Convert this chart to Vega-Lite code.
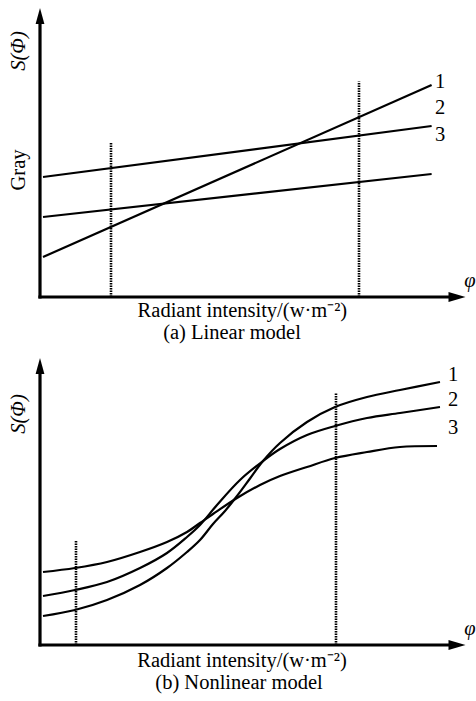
{
  "$schema": "https://vega.github.io/schema/vega-lite/v6.json",
  "padding": 0,
  "spacing": 0,
  "background": "white",
  "config": {"view": {"stroke": null}, "text": {"font": "Liberation Serif", "fontSize": 20.5, "color": "black", "baseline": "middle", "align": "center"}},
  "datasets": {
    "axesA": [{"x": 0, "y": 0, "x2": 0, "y2": 93}, {"x": 0, "y": 0, "x2": 104, "y2": 0}],
    "upA": [{"x": 0, "y": 93.67}],
    "rightA": [{"x": 104.25, "y": 0}],
    "linesA": [
      {"s": "1", "x": 0.75, "y": 13.33}, {"s": "1", "x": 97.9, "y": 70.67},
      {"s": "2", "x": 0.75, "y": 40}, {"s": "2", "x": 97.9, "y": 57},
      {"s": "3", "x": 0.75, "y": 26.67}, {"s": "3", "x": 97.9, "y": 41}
    ],
    "guidesA": [{"x": 17.75, "y": 0, "y2": 51.3}, {"x": 79.75, "y": 0, "y2": 71.8}],
    "textA": [
      {"role": "h", "label": "1", "x": 100, "y": 71.67},
      {"role": "h", "label": "2", "x": 100, "y": 63},
      {"role": "h", "label": "3", "x": 100, "y": 54},
      {"role": "h", "label": "Radiant intensity/(w·m⁻²)", "x": 50.6, "y": -4.67},
      {"role": "h", "label": "(a) Linear model", "x": 48, "y": -12},
      {"role": "hi", "label": "φ", "x": 107.5, "y": 5.33},
      {"role": "v", "label": "Gray", "x": -5.25, "y": 42.33},
      {"role": "vi", "label": "S(Φ)", "x": -5.25, "y": 82}
    ],
    "axesB": [{"x": 0, "y": 0, "x2": 0, "y2": 92.5}, {"x": 0, "y": 0, "x2": 104, "y2": 0}],
    "upB": [{"x": 0, "y": 93}],
    "rightB": [{"x": 104.25, "y": 0}],
    "curvesB": [
      {"s": "1", "x": 0.75, "y": 9.67}, {"s": "1", "x": 8.75, "y": 11.67}, {"s": "1", "x": 16.75, "y": 15},
      {"s": "1", "x": 25, "y": 20}, {"s": "1", "x": 31.75, "y": 25.67}, {"s": "1", "x": 36.75, "y": 31},
      {"s": "1", "x": 40, "y": 35}, {"s": "1", "x": 43.25, "y": 40.33}, {"s": "1", "x": 46.25, "y": 44.67},
      {"s": "1", "x": 49.25, "y": 49.67}, {"s": "1", "x": 52.5, "y": 55.5}, {"s": "1", "x": 55.75, "y": 61.33},
      {"s": "1", "x": 60, "y": 67.33}, {"s": "1", "x": 66.75, "y": 74.33}, {"s": "1", "x": 73.75, "y": 79.33},
      {"s": "1", "x": 81.75, "y": 82.67}, {"s": "1", "x": 90, "y": 85}, {"s": "1", "x": 100, "y": 87.67},
      {"s": "2", "x": 0.75, "y": 16.33}, {"s": "2", "x": 8.75, "y": 18.33}, {"s": "2", "x": 16.75, "y": 21},
      {"s": "2", "x": 25, "y": 25.67}, {"s": "2", "x": 31.75, "y": 30.67}, {"s": "2", "x": 36.75, "y": 36},
      {"s": "2", "x": 40, "y": 40}, {"s": "2", "x": 44.25, "y": 46.67}, {"s": "2", "x": 50, "y": 55},
      {"s": "2", "x": 55.75, "y": 61.33}, {"s": "2", "x": 60, "y": 65.33}, {"s": "2", "x": 66.75, "y": 70},
      {"s": "2", "x": 73.75, "y": 73}, {"s": "2", "x": 81.75, "y": 75.67}, {"s": "2", "x": 90, "y": 77.33},
      {"s": "2", "x": 100, "y": 79.33},
      {"s": "3", "x": 0.75, "y": 24.33}, {"s": "3", "x": 8.75, "y": 25.67}, {"s": "3", "x": 16.75, "y": 27.67},
      {"s": "3", "x": 25, "y": 31}, {"s": "3", "x": 31.75, "y": 34.33}, {"s": "3", "x": 36.75, "y": 37.67},
      {"s": "3", "x": 40, "y": 40.67}, {"s": "3", "x": 43.25, "y": 43.67}, {"s": "3", "x": 49.25, "y": 49},
      {"s": "3", "x": 55, "y": 53.33}, {"s": "3", "x": 60, "y": 56.33}, {"s": "3", "x": 66.75, "y": 59.33},
      {"s": "3", "x": 73.75, "y": 62.33}, {"s": "3", "x": 81.75, "y": 64.33}, {"s": "3", "x": 90, "y": 66},
      {"s": "3", "x": 99.25, "y": 66.33}
    ],
    "guidesB": [{"x": 9, "y": 0, "y2": 34.67}, {"x": 74, "y": 0, "y2": 84}],
    "textB": [
      {"role": "h", "label": "1", "x": 103.25, "y": 90},
      {"role": "h", "label": "2", "x": 103.25, "y": 81.67},
      {"role": "h", "label": "3", "x": 103.25, "y": 72.33},
      {"role": "h", "label": "Radiant intensity/(w·m⁻²)", "x": 50.5, "y": -5.33},
      {"role": "h", "label": "(b) Nonlinear model", "x": 49.75, "y": -12.67},
      {"role": "hi", "label": "φ", "x": 107.5, "y": 5.33},
      {"role": "vi", "label": "S(Φ)", "x": -5.25, "y": 77}
    ]
  },
  "vconcat": [
    {
      "width": 476,
      "height": 351,
      "encoding": {
        "x": {"field": "x", "type": "quantitative", "scale": {"domain": [-10, 109], "nice": false, "zero": false}, "axis": null},
        "y": {"field": "y", "type": "quantitative", "scale": {"domain": [-18, 99], "nice": false, "zero": false}, "axis": null}
      },
      "layer": [
        {"data": {"name": "guidesA"}, "mark": {"type": "rule", "color": "black", "strokeWidth": 2.6, "strokeDash": [1.5, 1]}, "encoding": {"y2": {"field": "y2"}}},
        {"data": {"name": "linesA"}, "mark": {"type": "line", "color": "black", "strokeWidth": 2.2}, "encoding": {"detail": {"field": "s"}}},
        {"data": {"name": "axesA"}, "mark": {"type": "rule", "color": "black", "strokeWidth": 3.2, "strokeCap": "square"}, "encoding": {"x2": {"field": "x2"}, "y2": {"field": "y2"}}},
        {"data": {"name": "upA"}, "mark": {"type": "point", "shape": "M0,-1L0.55,1L-0.55,1Z", "size": 256, "filled": true, "color": "black", "opacity": 1}},
        {"data": {"name": "rightA"}, "mark": {"type": "point", "shape": "M1,0L-1,-0.6L-1,0.6Z", "size": 289, "filled": true, "color": "black", "opacity": 1}},
        {"data": {"name": "textA"}, "transform": [{"filter": "datum.role === 'h'"}], "mark": {"type": "text"}, "encoding": {"text": {"field": "label"}}},
        {"data": {"name": "textA"}, "transform": [{"filter": "datum.role === 'hi'"}], "mark": {"type": "text", "fontStyle": "italic"}, "encoding": {"text": {"field": "label"}}},
        {"data": {"name": "textA"}, "transform": [{"filter": "datum.role === 'v'"}], "mark": {"type": "text", "angle": 270}, "encoding": {"text": {"field": "label"}}},
        {"data": {"name": "textA"}, "transform": [{"filter": "datum.role === 'vi'"}], "mark": {"type": "text", "angle": 270, "fontStyle": "italic"}, "encoding": {"text": {"field": "label"}}}
      ]
    },
    {
      "width": 476,
      "height": 350,
      "encoding": {
        "x": {"field": "x", "type": "quantitative", "scale": {"domain": [-10, 109], "nice": false, "zero": false}, "axis": null},
        "y": {"field": "y", "type": "quantitative", "scale": {"domain": [-18.667, 98], "nice": false, "zero": false}, "axis": null}
      },
      "layer": [
        {"data": {"name": "guidesB"}, "mark": {"type": "rule", "color": "black", "strokeWidth": 2.6, "strokeDash": [1.5, 1]}, "encoding": {"y2": {"field": "y2"}}},
        {"data": {"name": "curvesB"}, "mark": {"type": "line", "color": "black", "strokeWidth": 2.2, "interpolate": "catmull-rom"}, "encoding": {"detail": {"field": "s"}}},
        {"data": {"name": "axesB"}, "mark": {"type": "rule", "color": "black", "strokeWidth": 3.2, "strokeCap": "square"}, "encoding": {"x2": {"field": "x2"}, "y2": {"field": "y2"}}},
        {"data": {"name": "upB"}, "mark": {"type": "point", "shape": "M0,-1L0.55,1L-0.55,1Z", "size": 256, "filled": true, "color": "black", "opacity": 1}},
        {"data": {"name": "rightB"}, "mark": {"type": "point", "shape": "M1,0L-1,-0.6L-1,0.6Z", "size": 289, "filled": true, "color": "black", "opacity": 1}},
        {"data": {"name": "textB"}, "transform": [{"filter": "datum.role === 'h'"}], "mark": {"type": "text"}, "encoding": {"text": {"field": "label"}}},
        {"data": {"name": "textB"}, "transform": [{"filter": "datum.role === 'hi'"}], "mark": {"type": "text", "fontStyle": "italic"}, "encoding": {"text": {"field": "label"}}},
        {"data": {"name": "textB"}, "transform": [{"filter": "datum.role === 'vi'"}], "mark": {"type": "text", "angle": 270, "fontStyle": "italic"}, "encoding": {"text": {"field": "label"}}}
      ]
    }
  ]
}
